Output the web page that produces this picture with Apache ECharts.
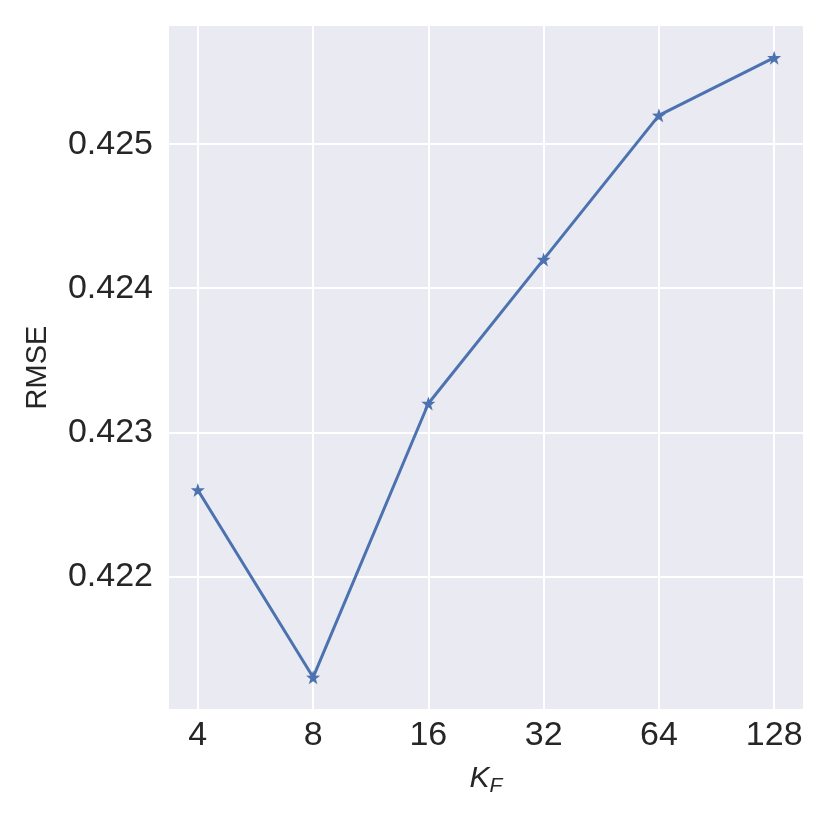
<!DOCTYPE html>
<html>
<head>
<meta charset="utf-8">
<script src="https://cdn.jsdelivr.net/npm/echarts@6/dist/echarts.min.js"></script>
<style>
  html, body { margin: 0; padding: 0; background: #fff; }
  #main { width: 830px; height: 830px; }
</style>
</head>
<body>
<div id="main"></div>
<script>
// data
var kLabels = ['4', '8', '16', '32', '64', '128'];
var rmse = [0.4226, 0.4213, 0.4232, 0.4242, 0.4252, 0.4256];
var yTicks = [0.422, 0.423, 0.424, 0.425];

var chart = echarts.init(document.getElementById('main'));
var font = '"Liberation Sans", Arial, sans-serif';

var points = rmse.map(function (v, i) { return [i, v]; });
var xIdx = kLabels.map(function (l, i) { return i; });

chart.setOption({
  animation: false,
  backgroundColor: '#fff',
  grid: {
    left: 169, right: 27, top: 26, bottom: 121,
    show: true, backgroundColor: '#eaeaf2', borderWidth: 0
  },
  xAxis: {
    type: 'value',
    min: -0.25, max: 5.25,
    axisLine: { show: false },
    axisTick: { show: false, customValues: xIdx },
    splitLine: { show: true, lineStyle: { color: '#fff', width: 2 } },
    axisLabel: {
      customValues: xIdx,
      formatter: function (v) { return kLabels[Math.round(v)]; },
      fontFamily: font, fontSize: 34, color: '#262626', margin: 10
    },
    name: '{i|K}{s|F}',
    nameLocation: 'middle',
    nameGap: 52,
    nameTextStyle: {
      rich: {
        i: { fontFamily: font, fontSize: 30, fontStyle: 'italic', color: '#262626' },
        s: { fontFamily: font, fontSize: 21, fontStyle: 'italic', color: '#262626', padding: [15, 0, 0, 0] }
      }
    }
  },
  yAxis: {
    type: 'value',
    min: 0.42108, max: 0.42582,
    axisLine: { show: false },
    axisTick: { show: false, customValues: yTicks },
    splitLine: { show: true, lineStyle: { color: '#fff', width: 2 } },
    axisLabel: {
      customValues: yTicks,
      formatter: function (v) { return v.toFixed(3); },
      fontFamily: font, fontSize: 34, color: '#262626', margin: 16
    },
    name: 'RMSE',
    nameLocation: 'middle',
    nameGap: 117,
    nameTextStyle: { fontFamily: font, fontSize: 29, color: '#262626' }
  },
  series: [{
    type: 'line',
    data: points,
    symbol: 'path://M0,-10 L2.35,-3.24 L9.51,-3.09 L3.8,1.24 L5.88,8.09 L0,4 L-5.88,8.09 L-3.8,1.24 L-9.51,-3.09 L-2.35,-3.24 Z',
    symbolSize: 14,
    lineStyle: { color: '#4c72b0', width: 3 },
    itemStyle: { color: '#4c72b0' }
  }]
});
</script>
</body>
</html>
